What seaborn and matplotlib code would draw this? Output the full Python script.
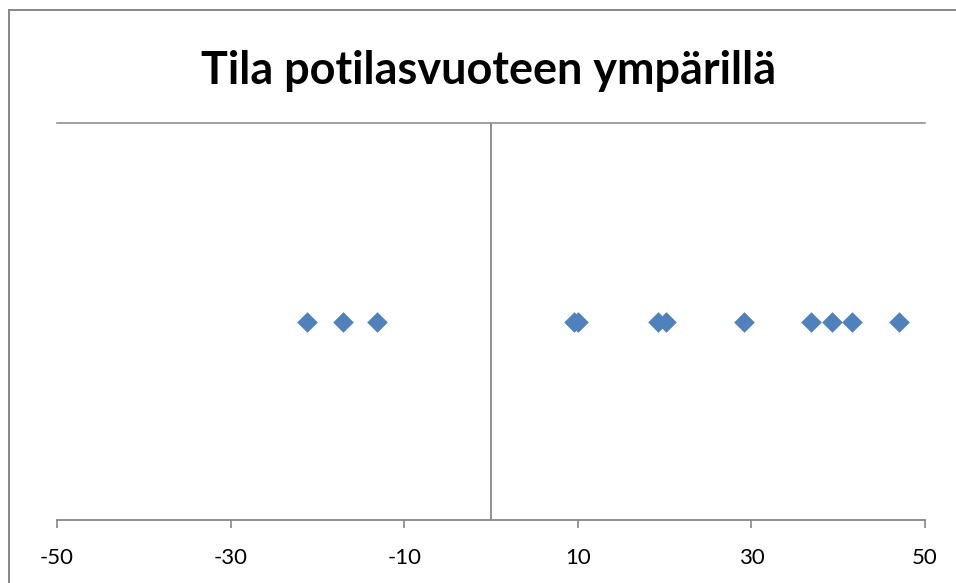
import numpy as np
import pandas as pd
import matplotlib
matplotlib.use('Agg')
import matplotlib.pyplot as plt
from matplotlib.patches import Rectangle
import seaborn as sns

# values
x_vals = [-21.2, -17.0, -13.1, 9.6, 10.0, 19.2, 20.2, 29.2, 36.9, 39.3, 41.6, 47.0]
y_vals = [1] * len(x_vals)
x_ticks = [-50, -30, -10, 10, 30, 50]
title = 'Tila potilasvuoteen ympärillä'

df = pd.DataFrame({'x': x_vals, 'y': y_vals})

sns.set_style('white')
plt.rcParams['font.family'] = ['Lato', 'DejaVu Sans']

grey = '#868686'
fig = plt.figure(figsize=(9.56, 5.83), dpi=100)
ax = fig.add_axes([57/956, 1-520/583, (925-57)/956, (520-123)/583])

sns.scatterplot(data=df, x='x', y='y', marker='D', s=110, color='#4F81BD',
                linewidth=0, ax=ax, zorder=3)

ax.set_xlim(-50, 50)
ax.set_ylim(0, 2)
ax.set_xticks(x_ticks)
ax.set_xticklabels([str(t) for t in x_ticks], fontsize=16, color='black')
ax.set_yticks([])
ax.set_xlabel('')
ax.set_ylabel('')
ax.tick_params(axis='x', direction='out', length=6, width=1.2, color=grey, pad=14, bottom=True)

for s in ['left', 'right']:
    ax.spines[s].set_visible(False)
ax.spines['bottom'].set_color(grey)
ax.spines['bottom'].set_linewidth(1.3)
ax.spines['top'].set_color(grey)
ax.spines['top'].set_linewidth(1.1)
ax.axvline(0, color=grey, lw=1.3, zorder=1)

fig.text(489/956, 1-84/583, title, ha='center', va='baseline',
         fontsize=32.4, fontweight='bold', color='black')

# outer chart border (cropped on the right and bottom)
fig.add_artist(Rectangle((9/956, -0.1), 1.2, 1 - 10/583 + 0.1, transform=fig.transFigure,
                         fill=False, edgecolor=grey, lw=1.4, clip_on=False))

fig.savefig('out.png', dpi=100)
